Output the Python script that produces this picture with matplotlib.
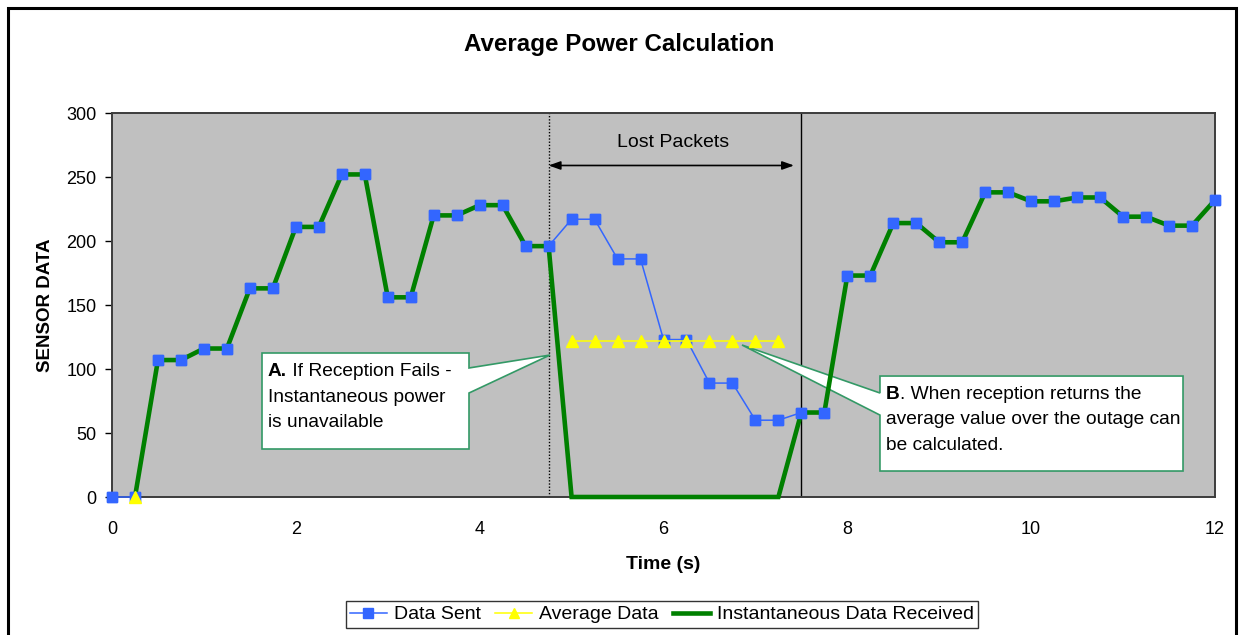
import numpy as np
import matplotlib
matplotlib.use("Agg")
import matplotlib.pyplot as plt
from matplotlib.patches import Polygon, Rectangle

plt.rcParams['font.family'] = ['Liberation Sans', 'DejaVu Sans']

# ---- data ----
time_s = [0, 0.25, 0.5, 0.75, 1, 1.25, 1.5, 1.75, 2, 2.25, 2.5, 2.75, 3, 3.25,
          3.5, 3.75, 4, 4.25, 4.5, 4.75, 5, 5.25, 5.5, 5.75, 6, 6.25, 6.5, 6.75,
          7, 7.25, 7.5, 7.75, 8, 8.25, 8.5, 8.75, 9, 9.25, 9.5, 9.75, 10, 10.25,
          10.5, 10.75, 11, 11.25, 11.5, 11.75, 12]
data_sent = [0, 0, 107, 107, 116, 116, 163, 163, 211, 211, 252, 252, 156, 156,
             220, 220, 228, 228, 196, 196, 217, 217, 186, 186, 123, 123, 89, 89,
             60, 60, 66, 66, 173, 173, 214, 214, 199, 199, 238, 238, 231, 231,
             234, 234, 219, 219, 212, 212, 232]
nan = float('nan')
average_data = [nan, 0, nan, nan, nan, nan, nan, nan, nan, nan, nan, nan, nan, nan,
                nan, nan, nan, nan, nan, nan, 122, 122, 122, 122, 122, 122, 122, 122,
                122, 122, nan, nan, nan, nan, nan, nan, nan, nan, nan, nan, nan, nan,
                nan, nan, nan, nan, nan, nan, nan]
inst_received = [nan, 0, 107, 107, 116, 116, 163, 163, 211, 211, 252, 252, 156, 156,
                 220, 220, 228, 228, 196, 196, 0, 0, 0, 0, 0, 0, 0, 0,
                 0, 0, 66, 66, 173, 173, 214, 214, 199, 199, 238, 238, 231, 231,
                 234, 234, 219, 219, 212, 212, 232]
x_ticks = [0, 2, 4, 6, 8, 10, 12]
y_ticks = [0, 50, 100, 150, 200, 250, 300]

outage_start = 4.75
outage_end = 7.5

# ---- figure ----
W, H = 1239, 635
fig = plt.figure(figsize=(W / 100, H / 100), dpi=100)
ax = fig.add_axes([112 / W, 1 - 497 / H, (1215 - 112) / W, (497 - 113) / H])
ax.set_facecolor('#C0C0C0')

green = '#008000'
blue = '#3366FF'
yellow = '#FFFF00'
callout_edge = '#339966'

l_sent, = ax.plot(time_s, data_sent, color=blue, lw=1.1, marker='s', ms=7,
                  mec=blue, mfc=blue, zorder=3, clip_on=False)
l_inst, = ax.plot(time_s, inst_received, color=green, lw=3.3, zorder=4,
                  clip_on=False, solid_joinstyle='miter')
ax.plot(time_s, data_sent, ls='none', marker='s', ms=7, mec=blue, mfc=blue,
        zorder=4.5, clip_on=False)
l_avg, = ax.plot(time_s, average_data, color=yellow, lw=1.1, marker='^', ms=8.5,
                 mec=yellow, mfc=yellow, zorder=5, clip_on=False)

ax.set_xlim(0, 12)
ax.set_ylim(0, 300)
ax.set_xticks(x_ticks)
ax.set_yticks(y_ticks)
ax.tick_params(axis='x', length=0, pad=17, labelsize=13)
ax.tick_params(axis='y', length=5, width=1, pad=6, labelsize=13, direction='out')
for s in ax.spines.values():
    s.set_color('#3c3c3c')
    s.set_linewidth(1.4)

ax.set_xlabel('Time (s)', fontsize=14, fontweight='bold', labelpad=13)
ax.set_ylabel('SENSOR DATA', fontsize=13.5, fontweight='bold', labelpad=9)
fig.text(0.5, 1 - 45 / H, 'Average Power Calculation', ha='center', va='center',
         fontsize=17.4, fontweight='bold')

# outage markers
ax.axvline(outage_start, color='black', lw=1.0, ls=(0, (1, 1.3)), zorder=2)
ax.axvline(outage_end, color='black', lw=1.0, zorder=2)
ax.annotate('', xy=(outage_start, 259), xytext=(7.42, 259),
            arrowprops=dict(arrowstyle='<|-|>,head_length=0.7,head_width=0.25',
                            color='black', lw=1.2, shrinkA=0, shrinkB=0), zorder=6)
ax.text(6.1, 277, 'Lost Packets', ha='center', va='center', fontsize=14)


def mixed_line(x, y, bold, rest):
    t = ax.text(x, y, bold, ha='left', va='baseline', fontsize=13.8,
                fontweight='bold', zorder=2.6)
    ax.annotate(rest, xy=(1, 0), xycoords=t, ha='left', va='bottom',
                fontsize=13.8, zorder=2.6)


# callout A
ax0, ax1, aytop, aybot = 1.632, 3.884, 112.5, 37.5
polyA = [(ax0, aytop), (ax1, aytop), (ax1, 100.8), (4.765, 110.9), (ax1, 81.25),
         (ax1, aybot), (ax0, aybot)]
ax.add_patch(Polygon(polyA, closed=True, facecolor='white', edgecolor=callout_edge,
                     lw=1.2, zorder=2.5, clip_on=False))
mixed_line(1.697, 94.5, 'A.', ' If Reception Fails -')
ax.text(1.697, 74.2, 'Instantaneous power', ha='left', va='baseline',
        fontsize=13.8, zorder=2.6)
ax.text(1.697, 54.7, 'is unavailable', ha='left', va='baseline',
        fontsize=13.8, zorder=2.6)

# callout B
bx0, bx1, bytop, bybot = 8.355, 11.652, 94.5, 20.3
polyB = [(bx0, bytop), (bx1, bytop), (bx1, bybot), (bx0, bybot), (bx0, 64),
         (6.854, 118.75), (bx0, 81.25)]
ax.add_patch(Polygon(polyB, closed=True, facecolor='white', edgecolor=callout_edge,
                     lw=1.2, zorder=2.5, clip_on=False))
mixed_line(8.42, 76.6, 'B', '. When reception returns the')
ax.text(8.42, 57.0, 'average value over the outage can', ha='left', va='baseline',
        fontsize=13.8, zorder=2.6)
ax.text(8.42, 36.7, 'be calculated.', ha='left', va='baseline',
        fontsize=13.8, zorder=2.6)

# legend
leg = fig.legend([l_sent, l_avg, l_inst],
                 ['Data Sent', 'Average Data', 'Instantaneous Data Received'],
                 loc='center', bbox_to_anchor=(662 / W, 1 - 614.5 / H), ncol=3,
                 fontsize=14, frameon=True, fancybox=False, shadow=False,
                 handlelength=1.9, handletextpad=0.35, columnspacing=0.75,
                 borderpad=0.22, borderaxespad=0)
leg.get_frame().set_edgecolor('black')
leg.get_frame().set_linewidth(1.0)
for h in leg.legend_handles:
    try:
        h.set_markersize(6.5)
    except Exception:
        pass

# outer chart border
fig.add_artist(Rectangle((8 / W, -0.05), (1236 - 8) / W, 1.05 - 8 / H,
                         transform=fig.transFigure, fill=False,
                         edgecolor='black', lw=2.2, clip_on=False))

fig.savefig('out.png', dpi=100)
